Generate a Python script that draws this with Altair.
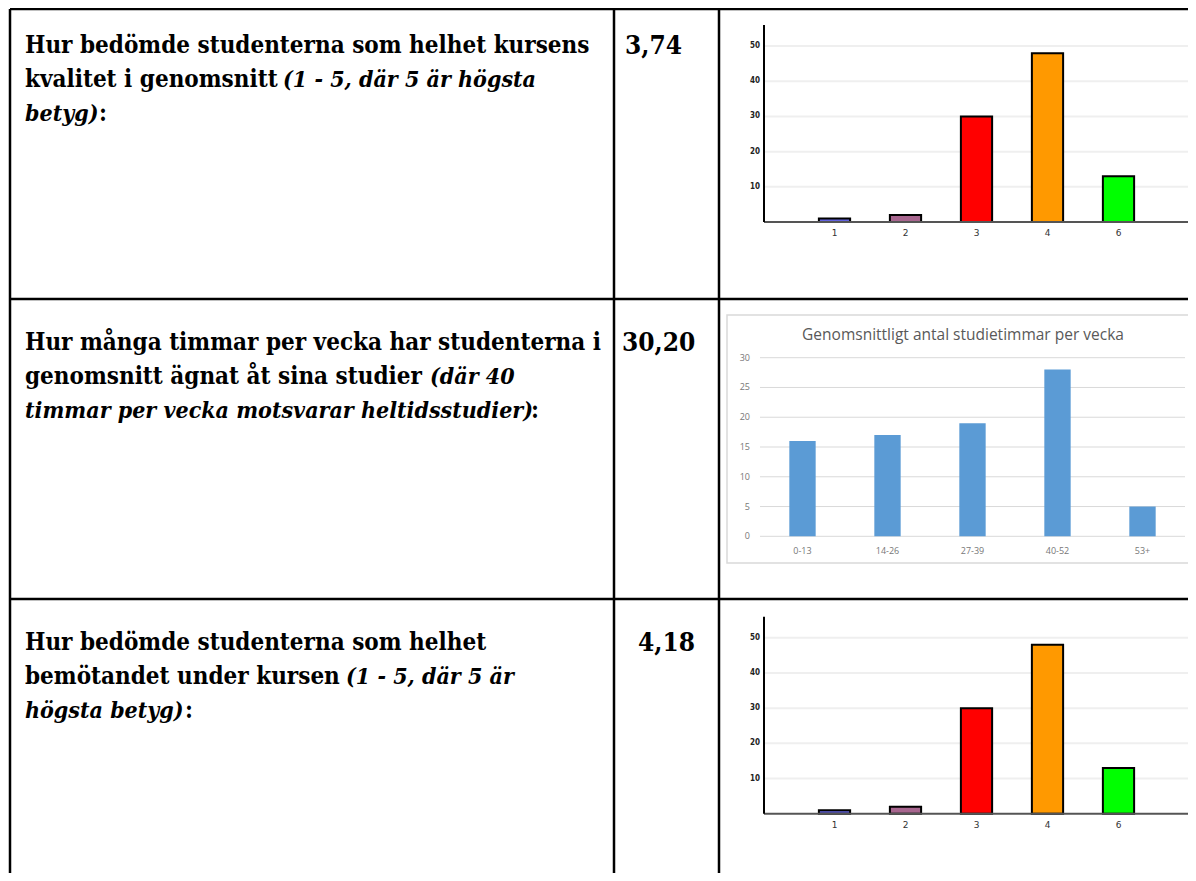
import altair as alt
import pandas as pd

# ---------------- data ----------------
grade_labels = ["1", "2", "3", "4", "6"]
quality_counts = [1, 2, 30, 48, 13]
treatment_counts = [1, 2, 30, 48, 13]
grade_colors = ["#6262de", "#a8668f", "#ff0000", "#ff9900", "#00ff00"]
grade_ticks = [10, 20, 30, 40, 50]

hour_labels = ["0-13", "14-26", "27-39", "40-52", "53+"]
hour_counts = [16, 17, 19, 28, 5]
hour_ticks = [0, 5, 10, 15, 20, 25, 30]
hours_title = "Genomsnittligt antal studietimmar per vecka"

mean_values = ["3,74", "30,20", "4,18"]

# question text segments: (text, italic)
question_lines = [
    [[("Hur bedömde studenterna som helhet kursens", False)],
     [("kvalitet i genomsnitt", False), ("(1 - 5, där 5 är högsta", True)],
     [("betyg)", True), (":", False)]],
    [[("Hur många timmar per vecka har studenterna i", False)],
     [("genomsnitt ägnat åt sina studier", False), ("(där 40", True)],
     [("timmar per vecka motsvarar heltidsstudier)", True), (":", False)]],
    [[("Hur bedömde studenterna som helhet", False)],
     [("bemötandet under kursen", False), ("(1 - 5, där 5 är", True)],
     [("högsta betyg)", True), (":", False)]],
]

# ---------------- layout (pixels, chart space) ----------------
W, H = 1180, 865
FONT = "DejaVu Serif Condensed, DejaVu Serif"
FS = 24
FS_IT = 23
row_top = [1, 291, 591]
first_line = [37, 44, 44]
line_step = 34
seg_x = [
    [[17], [17, 275], [17, 91]],
    [[17], [17, 422], [17, 523]],
    [[17], [17, 338], [17, 177]],
]
value_x = [617, 614, 630]

table_lines = pd.DataFrame({
    "x1": [2, 2, 2, 2, 606, 711],
    "x2": [W, W, W, 2, 606, 711],
    "y1": [1, 291, 591, 1, 1, 1],
    "y2": [1, 291, 591, H, H, H],
})

seg_rows = []
for r, lines in enumerate(question_lines):
    for li, segs in enumerate(lines):
        for si, (txt, it) in enumerate(segs):
            seg_rows.append({"text": txt, "italic": it,
                             "x": seg_x[r][li][si],
                             "y": row_top[r] + first_line[r] + li * line_step})
segs_df = pd.DataFrame(seg_rows)
vals_df = pd.DataFrame({"text": mean_values, "x": value_x,
                        "y": [row_top[i] + first_line[i] for i in range(3)]})

table = alt.Chart(table_lines).mark_rule(color="black", strokeWidth=2.5).encode(
    x=alt.X("x1:Q", scale=None), x2="x2:Q",
    y=alt.Y("y1:Q", scale=None), y2="y2:Q")

txt_regular = alt.Chart(segs_df).transform_filter("!datum.italic").mark_text(
    font=FONT, fontSize=FS, fontWeight="bold", align="left", baseline="middle", color="black"
).encode(x=alt.X("x:Q", scale=None), y=alt.Y("y:Q", scale=None), text="text:N")

txt_italic = alt.Chart(segs_df).transform_filter("datum.italic").mark_text(
    font=FONT, fontSize=FS_IT, fontWeight="bold", fontStyle="italic", align="left",
    baseline="middle", color="black"
).encode(x=alt.X("x:Q", scale=None), y=alt.Y("y:Q", scale=None), text="text:N")

txt_values = alt.Chart(vals_df).mark_text(
    font=FONT, fontSize=26, fontWeight="bold", align="left", baseline="middle", color="black"
).encode(x=alt.X("x:Q", scale=None), y=alt.Y("y:Q", scale=None), text="text:N")


def grade_chart(counts, y0):
    df = pd.DataFrame({"grade": grade_labels, "count": counts, "color": grade_colors})
    xs = alt.Scale(domain=grade_labels, range=[791, 1146], paddingInner=0.56, paddingOuter=0.28)
    ys = alt.Scale(domain=[0, 56], range=[y0, y0 - 197], nice=False, zero=True)
    tick_df = pd.DataFrame({"v": grade_ticks})
    one = pd.DataFrame({"a": [0]})
    grid = alt.Chart(tick_df).mark_rule(color="#efefef", strokeWidth=2).encode(
        y=alt.Y("v:Q", scale=ys, axis=None), x=alt.value(757), x2=alt.value(W))
    bars = alt.Chart(df).mark_bar(stroke="black", strokeWidth=2).encode(
        x=alt.X("grade:N", scale=xs, axis=None, sort=grade_labels),
        y=alt.Y("count:Q", scale=ys, axis=None),
        color=alt.Color("color:N", scale=None))
    base = alt.Chart(one).mark_rule(color="#555555", strokeWidth=2).encode(
        y=alt.value(y0), x=alt.value(756), x2=alt.value(W))
    yax = alt.Chart(one).mark_rule(color="black", strokeWidth=2).encode(
        x=alt.value(756), y=alt.value(y0 - 197), y2=alt.value(y0))
    ylab = alt.Chart(tick_df).mark_text(
        font="DejaVu Sans Condensed, DejaVu Sans", fontSize=8, fontWeight="bold", align="right",
        baseline="middle", color="#222222"
    ).encode(y=alt.Y("v:Q", scale=ys, axis=None), x=alt.value(752), text="v:Q")
    xlab = alt.Chart(df).mark_text(
        font="DejaVu Sans", fontSize=9, align="center", baseline="middle", color="#333333"
    ).encode(x=alt.X("grade:N", scale=xs, axis=None, sort=grade_labels),
             y=alt.value(y0 + 11), text="grade:N")
    return alt.layer(grid, bars, base, yax, ylab, xlab)


def hours_chart():
    df = pd.DataFrame({"bin": hour_labels, "count": hour_counts})
    xs = alt.Scale(domain=hour_labels, range=[752, 1177], paddingInner=0.69, paddingOuter=0.345)
    ys = alt.Scale(domain=[0, 30], range=[528.3, 349.7], nice=False, zero=True)
    tick_df = pd.DataFrame({"v": hour_ticks})
    one = pd.DataFrame({"a": [0]})
    title_df = pd.DataFrame({"t": [hours_title]})
    box = alt.Chart(one).mark_rect(fill="white", stroke="#d9d9d9", strokeWidth=1.5).encode(
        x=alt.value(719), x2=alt.value(W + 10), y=alt.value(307), y2=alt.value(555))
    title = alt.Chart(title_df).mark_text(
        font="Open Sans", fontSize=15.5, color="#595959", align="center", baseline="middle"
    ).encode(x=alt.value(955), y=alt.value(327), text="t:N")
    grid = alt.Chart(tick_df).mark_rule(color="#d9d9d9", strokeWidth=1).encode(
        y=alt.Y("v:Q", scale=ys, axis=None), x=alt.value(752), x2=alt.value(1177))
    bars = alt.Chart(df).mark_bar(color="#5b9bd5").encode(
        x=alt.X("bin:N", scale=xs, axis=None, sort=hour_labels),
        y=alt.Y("count:Q", scale=ys, axis=None))
    ylab = alt.Chart(tick_df).mark_text(
        font="Open Sans", fontSize=9, align="right", baseline="middle", color="#777777"
    ).encode(y=alt.Y("v:Q", scale=ys, axis=None), x=alt.value(742), text="v:Q")
    xlab = alt.Chart(df).mark_text(
        font="Open Sans", fontSize=9, align="center", baseline="middle", color="#777777"
    ).encode(x=alt.X("bin:N", scale=xs, axis=None, sort=hour_labels),
             y=alt.value(543), text="bin:N")
    return alt.layer(box, title, grid, bars, ylab, xlab)


chart = alt.layer(
    grade_chart(quality_counts, 214),
    hours_chart(),
    grade_chart(treatment_counts, 805.7),
    table, txt_regular, txt_italic, txt_values,
).resolve_scale(x="independent", y="independent", color="independent").properties(
    width=W, height=H, padding=0, autosize=alt.AutoSizeParams(type="none"),
    background="white"
).configure_view(stroke=None)

chart.save("out.html", embed_options={"renderer": "svg", "actions": False})
